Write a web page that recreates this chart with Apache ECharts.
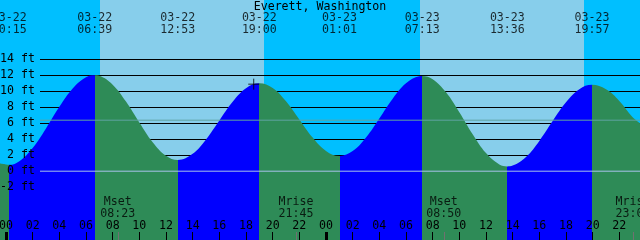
<!DOCTYPE html>
<html><head><meta charset="utf-8">
<script src="https://cdn.jsdelivr.net/npm/echarts@6/dist/echarts.min.js"></script>
<style>html,body{margin:0;padding:0;background:#00BFFF;overflow:hidden}#c{width:640px;height:240px}</style>
</head><body><div id="c"></div>
<script>
// ---- data (hours counted from 03-22 00:00, heights in feet) ----
const stationName = 'Everett, Washington';
const tideHours = [-0.45, 0, 0.25, 1, 2, 3, 4, 5, 6, 6.65, 7, 8, 9, 10, 11, 12, 12.883, 14, 15, 16, 17, 18, 19,
  20, 21, 22, 23, 24, 25.017, 26, 27, 28, 29, 30, 31, 31.217, 32, 33, 34, 35, 36, 37, 37.6, 38, 39, 40, 41, 42, 43, 43.95,
  45, 46, 47, 47.55];
const tideFeet = [0.95, 0.84, 0.8, 1.25, 2.9, 5.35, 8.05, 10.35, 11.75, 12.0, 11.92, 10.82, 8.7, 6.08, 3.61, 1.92, 1.4, 2.17, 3.97, 6.34, 8.68, 10.38, 11.0,
  10.39, 8.73, 6.47, 4.2, 2.53, 1.9, 2.51, 4.22, 6.6, 9.07, 10.98, 11.87, 11.9, 11.49, 9.86, 7.38, 4.63, 2.27, 0.84, 0.6, 0.7, 1.78, 3.79, 6.27, 8.61, 10.25, 10.8,
  10.24, 8.79, 6.75, 6.0];
const extremeHours = [0.25, 6.65, 12.883, 19.0, 25.017, 31.217, 37.6, 43.95];
const extremeDates = ['03-22', '03-22', '03-22', '03-22', '03-23', '03-23', '03-23', '03-23'];
const extremeTimes = ['00:15', '06:39', '12:53', '19:00', '01:01', '07:13', '13:36', '19:57'];
const sunriseHours = [7.05, 31.05];
const sunsetHours = [19.35, 43.35];
const moonHours = [8.383, 21.75, 32.833, 47.017];
const moonEvents = ['Mset', 'Mrise', 'Mset', 'Mrise'];
const moonTimes = ['08:23', '21:45', '08:50', '23:01'];
const hourTicks = [0, 2, 4, 6, 8, 10, 12, 14, 16, 18, 20, 22, 24, 26, 28, 30, 32, 34, 36, 38, 40, 42, 44, 46];
const midnightTicks = [0, 24];
const nowMark = [18.58, 10.88];
const meanLevel = 6.375;
const datumLevel = 0;

// ---- styles ----
const FONT = 'DejaVu Sans Mono';
const FS = 11.6;
const RISE = '#0000FF', FALL = '#2E8B57', DAY = '#87CEEB', NIGHT = '#00BFFF';
const X_MIN = -0.45, X_MAX = 47.55, Y_MIN = -8.6, Y_MAX = 21.4;

const pieces = [];
let prev = null;
extremeHours.forEach((t, i) => {
  const p = { lt: t, color: i % 2 === 0 ? FALL : RISE };
  if (prev !== null) p.gte = prev;
  pieces.push(p);
  prev = t;
});
pieces.push({ gte: prev, color: extremeHours.length % 2 === 0 ? FALL : RISE });

const txt = { fontFamily: FONT, fontSize: FS, color: '#000' };
const noLine = { show: false, onZero: false };
const chart = echarts.init(document.getElementById('c'), null, { renderer: 'canvas' });
chart.setOption({
  animation: false,
  backgroundColor: NIGHT,
  title: { text: stationName, left: 'center', top: 0.5, padding: 0,
    textStyle: Object.assign({ fontWeight: 'normal', lineHeight: 12 }, txt) },
  grid: [
    { left: 0, right: 0, top: 0, bottom: 0, show: true, backgroundColor: NIGHT, borderWidth: 0,
      containLabel: false, outerBoundsMode: 'none' },
    { left: 40, right: 0, top: 171.2 - 14 * 8, height: 16 * 8, containLabel: false, outerBoundsMode: 'none' }
  ],
  visualMap: { type: 'piecewise', show: false, dimension: 0, seriesIndex: 0, pieces: pieces },
  xAxis: [
    { type: 'value', gridIndex: 0, min: X_MIN, max: X_MAX, position: 'bottom', z: 10,
      axisLine: noLine, splitLine: { show: false },
      axisTick: { show: true, inside: true, length: 8, customValues: hourTicks, lineStyle: { color: '#000', width: 1 } },
      axisLabel: Object.assign({ show: true, inside: true, margin: 8, lineHeight: 12, customValues: hourTicks,
        hideOverlap: false, formatter: v => String(Math.round(v) % 24).padStart(2, '0') }, txt) },
    { type: 'value', gridIndex: 0, min: X_MIN, max: X_MAX, position: 'bottom', z: 11,
      axisLine: noLine, splitLine: { show: false }, axisLabel: { show: false },
      axisTick: { show: true, inside: true, length: 8, customValues: midnightTicks, lineStyle: { color: '#000', width: 3 } } },
    { type: 'value', gridIndex: 0, min: X_MIN, max: X_MAX, position: 'bottom', z: 11,
      axisLine: noLine, splitLine: { show: false }, axisLabel: { show: false },
      axisTick: { show: true, inside: true, length: 8, customValues: moonHours, lineStyle: { color: '#707070', width: 1 } } },
    { type: 'value', gridIndex: 1, min: 0, max: 1, show: false, axisLine: noLine }
  ],
  yAxis: [
    { type: 'value', gridIndex: 0, min: Y_MIN, max: Y_MAX, show: false, axisLine: noLine },
    { type: 'value', gridIndex: 1, min: -2, max: 14, interval: 2, z: 1.5,
      axisLine: noLine, axisTick: { show: false }, axisLabel: { show: false },
      splitLine: { show: true, lineStyle: { color: '#000', width: 1 } } },
    { type: 'value', gridIndex: 1, min: -2, max: 14, interval: 2, z: 10, position: 'left',
      axisLine: noLine, axisTick: { show: false }, splitLine: { show: false },
      axisLabel: Object.assign({ show: true, margin: 5, formatter: '{value} ft' }, txt) }
  ],
  series: [
    { type: 'line', name: 'tide', xAxisIndex: 0, yAxisIndex: 0, z: 2,
      data: tideHours.map((t, i) => [t, tideFeet[i]]),
      showSymbol: false, symbol: 'none', smooth: 0.4,
      lineStyle: { width: 0 }, areaStyle: { opacity: 1, origin: 'start' },
      markArea: { silent: true, z: 1, itemStyle: { color: DAY },
        data: sunriseHours.map((t, i) => [{ xAxis: t }, { xAxis: sunsetHours[i] }]) } },
    { type: 'line', name: 'datum', xAxisIndex: 3, yAxisIndex: 1, z: 3, symbol: 'none',
      data: [[0, datumLevel], [1, datumLevel]], lineStyle: { color: '#A9C3EA', width: 1 } },
    { type: 'line', name: 'msl', xAxisIndex: 3, yAxisIndex: 1, z: 3, symbol: 'none',
      data: [[0, meanLevel], [1, meanLevel]], lineStyle: { color: '#5FA3A0', width: 1 } },
    { type: 'scatter', name: 'tideLabels', xAxisIndex: 0, yAxisIndex: 0, z: 10, clip: false,
      symbol: 'rect', symbolSize: 1, itemStyle: { color: 'transparent' },
      data: extremeHours.map(t => [t, Y_MAX]),
      label: Object.assign({ show: true, position: 'inside', offset: [0, 24], lineHeight: 12, align: 'center',
        formatter: p => extremeDates[p.dataIndex] + '\n' + extremeTimes[p.dataIndex] }, txt) },
    { type: 'scatter', name: 'moonLabels', xAxisIndex: 0, yAxisIndex: 0, z: 10, clip: false,
      symbol: 'rect', symbolSize: 1, itemStyle: { color: 'transparent' },
      data: moonHours.map(t => [t, Y_MIN]),
      label: Object.assign({ show: true, position: 'inside', offset: [0, -32.25], lineHeight: 12.5, align: 'center',
        formatter: p => moonEvents[p.dataIndex] + '\n' + moonTimes[p.dataIndex] }, txt) },
    { type: 'scatter', name: 'now', xAxisIndex: 0, yAxisIndex: 0, z: 10,
      symbol: 'path://M0,5L10,5M5,0L5,10', symbolSize: 11,
      itemStyle: { color: 'transparent', borderColor: '#000', borderWidth: 1 },
      data: [nowMark] }
  ]
});
</script></body></html>
